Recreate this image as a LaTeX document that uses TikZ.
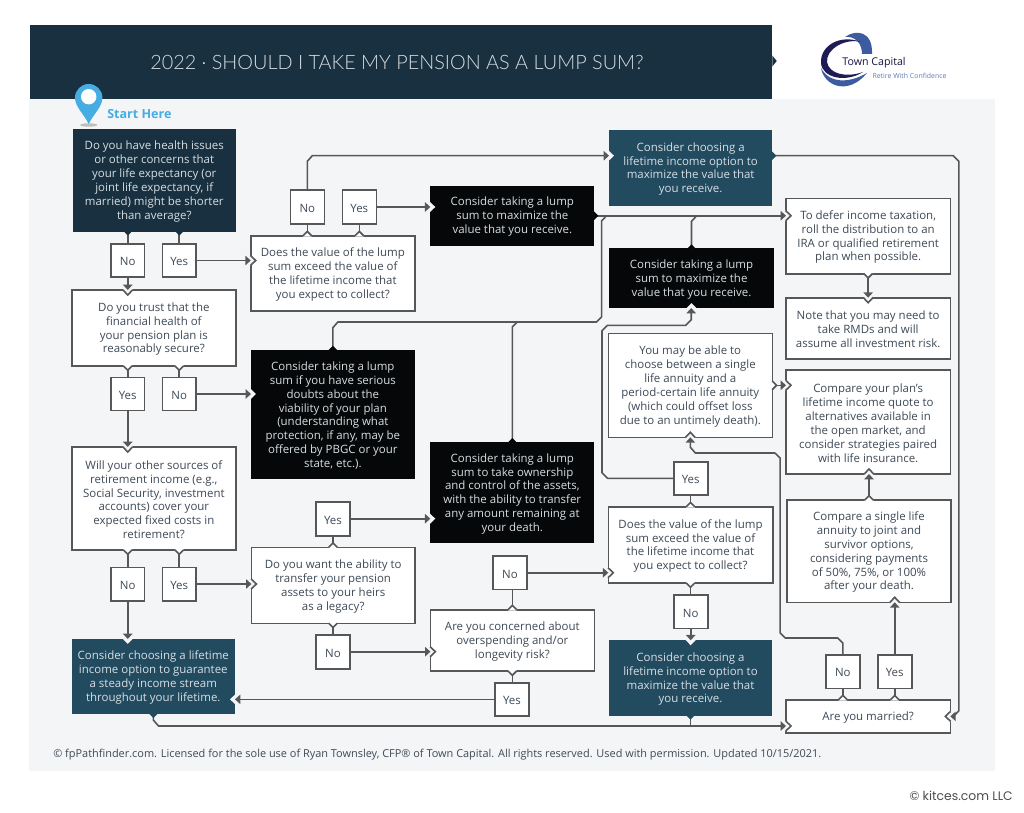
\documentclass[tikz,border=0pt]{standalone}
\usepackage{fontspec}
\setmainfont{Open Sans}
\newfontfamily\titlefont[UprightFont=* Light]{Lato}
\newfontfamily\kitfont{Poppins}
\usetikzlibrary{arrows.meta,calc}
\definecolor{hdr}{HTML}{18303F}
\definecolor{bgc}{HTML}{F4F5F7}
\definecolor{navy}{HTML}{18303F}
\definecolor{teal}{HTML}{224B60}
\definecolor{blk}{HTML}{050708}
\definecolor{edge}{HTML}{555759}
\definecolor{ink}{HTML}{3E4A57}
\definecolor{lite}{HTML}{D6DEE3}
\definecolor{pinc}{HTML}{45ADE2}
\definecolor{logoa}{HTML}{1F1B55}
\definecolor{logob}{HTML}{3C5BA0}
\newcommand{\bx}[7]{%
  \pgfmathsetmacro\cxx{(#2+#4)/2}\pgfmathsetmacro\cyy{(#3+#5)/2}%
  \pgfmathsetmacro\wxx{(#4-#2)*0.75}\pgfmathsetmacro\hxx{(#5-#3)*0.75}%
  \node[#6,minimum width=\wxx pt,minimum height=\hxx pt] (#1) at (\cxx,\cyy) {\rule{0pt}{8.3pt}#7};}
% inward notch on a white box
\newcommand{\vin}[2]{\begin{scope}[shift={(#1)},rotate=#2]
  \fill[bgc] (-0.7pt,3.75pt) -- (0pt,3.75pt) -- (3.75pt,0pt) -- (0pt,-3.75pt) -- (-0.7pt,-3.75pt) -- cycle;
  \draw[edge,wire,line join=miter] (-0.2pt,3.75pt) -- (3.75pt,0pt) -- (-0.2pt,-3.75pt);\end{scope}}
% inward notch on a filled box
\newcommand{\vind}[2]{\begin{scope}[shift={(#1)},rotate=#2]
  \fill[bgc] (-0.2pt,3.75pt) -- (3.75pt,0pt) -- (-0.2pt,-3.75pt) -- cycle;\end{scope}}
% outward bump on a white box
\newcommand{\vout}[2]{\begin{scope}[shift={(#1)},rotate=#2]
  \fill[white] (-0.7pt,3.2pt) -- (0pt,3.2pt) -- (3.2pt,0pt) -- (0pt,-3.2pt) -- (-0.7pt,-3.2pt) -- cycle;
  \draw[edge,wire] (-0.1pt,3.3pt) -- (3.2pt,0pt) -- (-0.1pt,-3.3pt);\end{scope}}
% outward bump on a filled box
\newcommand{\voutd}[3]{\begin{scope}[shift={(#1)},rotate=#2]
  \fill[#3] (-0.2pt,3.2pt) -- (3pt,0pt) -- (-0.2pt,-3.2pt) -- cycle;\end{scope}}
\tikzset{
  wire/.style={line width=1.2pt},
  conn/.style={edge,wire,line join=round},
  arr/.style={conn,-{Triangle[length=4pt,width=7pt]}},
  base/.style={inner sep=0pt,outer sep=0pt,align=center,font=\fontsize{8.6}{10.4}\selectfont},
  wbox/.style={base,draw=edge,line width=1.2pt,fill=white,text=ink},
  nbox/.style={base,fill=navy,text=lite},
  tbox/.style={base,fill=teal,text=lite},
  kbox/.style={base,fill=blk,text=lite},
}
\begin{document}
\begin{tikzpicture}[x=0.75pt,y=-0.75pt]
\useasboundingbox (0,0) rectangle (1024,813);
\fill[white] (0,0) rectangle (1024,813);
\fill[bgc] (29.3,99) rectangle (995,771);
\fill[hdr] (29.5,25) rectangle (772.3,99);
\fill[hdr] (772.3,55.5) -- (776.7,61) -- (772.3,66.5) -- cycle;
\node[inner sep=0pt,text=lite,font=\titlefont\fontsize{14.87}{16}\selectfont] (title) at (397,62.6) {2022 · SHOULD I TAKE MY PENSION AS A LUMP SUM?};
% logo
\fill[logob] (845,37) .. controls (856,29) and (873,31) .. (872,54) -- (862,54) .. controls (862,43) and (855,36) .. (845,37) -- cycle;
\fill[logoa] (861,42) .. controls (841,34) and (820,45) .. (821,63) .. controls (822,78) and (846,83) .. (863,72) .. controls (846,78) and (829,74) .. (827,62) .. controls (826,49) and (845,38) .. (861,42) -- cycle;
\fill[logob] (821,68) .. controls (824,86) and (848,96) .. (867,73) .. controls (848,84) and (829,83) .. (821,68) -- cycle;
\node[inner sep=0pt,text=logoa!75!black,font=\fontsize{8}{9}\selectfont] (logoname) at (874,63) {Town Capital};
\node[inner sep=0pt,text=logob!80!white,font=\fontsize{5.2}{6}\selectfont] (logotag) at (909.5,76) {Retire With Confidence};
% pin
\fill[black!25] (88.7,125) ellipse [x radius=6.4pt,y radius=1.3pt];
\fill[pinc] (88.7,124) .. controls (84,114) and (75,107) .. (75,97.7) arc[start angle=180,end angle=0,radius=10.28pt] .. controls (102.4,107) and (93.4,114) .. (88.7,124) -- cycle;
\fill[white] (88.7,96.7) circle[radius=5.8pt];
\node[inner sep=0pt,anchor=west,text=pinc,font=\bfseries\fontsize{9.4}{11}\selectfont] (start) at (107,114) {Start Here};
% boxes
\bx{q1}{72.5}{129.5}{236}{231.5}{nbox}{Do you have health issues\\or other concerns that\\your life expectancy (or\\joint life expectancy, if\\married) might be shorter\\than average?}
\bx{noa}{111}{244}{144.5}{277}{wbox}{No}
\bx{yesa}{162.5}{244}{196}{277}{wbox}{Yes}
\bx{q2}{72}{290}{235.7}{366}{wbox}{Do you trust that the\\financial health of\\your pension plan is\\reasonably secure?}
\bx{yesb}{111}{377.5}{144.5}{410.5}{wbox}{Yes}
\bx{nob}{162.5}{377.5}{196}{410.5}{wbox}{No}
\bx{q3}{72}{447}{235.7}{550}{wbox}{Will your other sources of\\retirement income (e.g.,\\Social Security, investment\\accounts) cover your\\expected fixed costs in\\retirement?}
\bx{noc}{111}{567.3}{144.5}{600.7}{wbox}{No}
\bx{yesc}{162.5}{567.3}{196}{600.7}{wbox}{Yes}
\bx{dbl}{71.6}{639}{235}{714}{tbox}{Consider choosing a lifetime\\income option to guarantee\\a steady income stream\\throughout your lifetime.}
\bx{q5}{250.7}{235.7}{415}{310.7}{wbox}{Does the value of the lump\\sum exceed the value of\\the lifetime income that\\you expect to collect?}
\bx{nod}{290.3}{190.3}{324.3}{223.7}{wbox}{No}
\bx{yesd}{342.3}{190.3}{376.3}{223.7}{wbox}{Yes}
\bx{ka}{430.3}{185.7}{594.3}{245.7}{kbox}{Consider taking a lump\\sum to maximize the\\value that you receive.}
\bx{ser}{251}{349.7}{414.7}{479}{kbox}{Consider taking a lump\\sum if you have serious\\doubts about the\\viability of your plan\\(understanding what\\protection, if any, may be\\offered by PBGC or your\\state, etc.).}
\bx{yese}{316}{501.7}{350}{535.7}{wbox}{Yes}
\bx{q4}{251.4}{547.3}{415}{623.3}{wbox}{Do you want the ability to\\transfer your pension\\assets to your heirs\\as a legacy?}
\bx{noe}{316}{634.7}{350}{668.7}{wbox}{No}
\bx{own}{430.3}{442}{594.3}{543.3}{kbox}{Consider taking a lump\\sum to take ownership\\and control of the assets,\\with the ability to transfer\\any amount remaining at\\your death.}
\bx{nof}{493}{556}{527}{589.5}{wbox}{No}
\bx{q6}{430.4}{609.7}{594.3}{671}{wbox}{Are you concerned about\\overspending and/or\\longevity risk?}
\bx{yesf}{495}{682.7}{529}{716}{wbox}{Yes}
\bx{bt}{609}{130}{772.3}{205.7}{tbox}{Consider choosing a\\lifetime income option to\\maximize the value that\\you receive.}
\bx{kb}{609.3}{248.3}{773.7}{308}{kbox}{Consider taking a lump\\sum to maximize the\\value that you receive.}
\bx{may}{608.3}{333.3}{772.3}{437.3}{wbox}{You may be able to\\choose between a single\\life annuity and a\\period-certain life annuity\\(which could offset loss\\due to an untimely death).}
\bx{yesg}{673.7}{461.7}{707.7}{495}{wbox}{Yes}
\bx{q7}{608.3}{506.7}{772.7}{583}{wbox}{Does the value of the lump\\sum exceed the value of\\the lifetime income that\\you expect to collect?}
\bx{nog}{673.7}{595}{707.7}{628.3}{wbox}{No}
\bx{bm}{608.7}{640.3}{772.3}{715.7}{tbox}{Consider choosing a\\lifetime income option to\\maximize the value that\\you receive.}
\bx{def}{786}{198.3}{950.3}{273.7}{wbox}{To defer income taxation,\\roll the distribution to an\\IRA or qualified retirement\\plan when possible.}
\bx{note}{786}{297.7}{950.3}{358.7}{wbox}{Note that you may need to\\take RMDs and will\\assume all investment risk.}
\bx{cp}{786}{370}{950.3}{474}{wbox}{Compare your plan’s\\lifetime income quote to\\alternatives available in\\the open market, and\\consider strategies paired\\with life insurance.}
\bx{cs}{787}{500}{951}{602.3}{wbox}{Compare a single life\\annuity to joint and\\survivor options,\\considering payments\\of 50\%, 75\%, or 100\%\\after your death.}
\bx{nor}{826}{654.7}{859.7}{688.3}{wbox}{No}
\bx{yesr}{877.7}{654.7}{911.7}{688.3}{wbox}{Yes}
\bx{mar}{786}{699.7}{950.3}{733}{wbox}{Are you married?}
\node[inner sep=0pt,anchor=west,text=ink,font=\fontsize{8.2}{10}\selectfont] (foot) at (53,755) {© fpPathfinder.com. Licensed for the sole use of Ryan Townsley, CFP® of Town Capital. All rights reserved. Used with permission. Updated 10/15/2021.};
\node[inner sep=0pt,anchor=east,text=black!70,font=\kitfont\fontsize{9.3}{10}\selectfont] (kit) at (1013,796) {© kitces.com LLC};
% inward notches
\vin{q2.north-|noa}{270}
\vin{q5.west|-yesa}{0}
\vind{ka.west|-yesd}{0}
\vind{ser.west|-nob}{0}
\vin{q3.north-|yesb}{270}
\vin{q4.west|-yesc}{0}
\vind{dbl.north-|noc}{270}
\vind{own.west|-yese}{0}
\vin{q6.west|-noe}{0}
\vind{dbl.east|-yesf}{180}
\vin{q7.west|-nof}{0}
\vind{bm.north-|nog}{270}
\vin{def.west|-ka}{0}
\vin{note.north-|def}{270}
\vin{cp.west|-may}{0}
\vin{cp.south-|cs}{90}
\vin{cs.south-|yesr}{90}
\vin{may.south}{90}
\vind{kb.south}{90}
\vin{mar.east}{180}
\coordinate (btin) at ($(bt.north west)+(0,25.7)$);
\coordinate (btout) at ($(bt.north east)+(0,25.7)$);
\vind{btin}{0}
\coordinate (jm) at (786,726);
\vin{jm}{0}
% connectors
\draw[conn] (noa|-q1.south) -- (noa.north);
\draw[conn] (yesa|-q1.south) -- (yesa.north);
\draw[arr] (noa.south) -- (noa|-q2.north);
\draw[arr] (yesa.east) -- (yesa.east-|q5.west);
\draw[conn] (yesb|-q2.south) -- (yesb.north);
\draw[conn] (nob|-q2.south) -- (nob.north);
\draw[arr] (yesb.south) -- (yesb|-q3.north);
\draw[arr] (nob.east) -- (nob.east-|ser.west);
\draw[conn] (noc|-q3.south) -- (noc.north);
\draw[conn] (yesc|-q3.south) -- (yesc.north);
\draw[arr] (noc.south) -- (noc|-dbl.north);
\draw[arr] (yesc.east) -- (yesc.east-|q4.west);
\draw[conn] (nod|-q5.north) -- (nod.south);
\draw[conn] (yesd|-q5.north) -- (yesd.south);
\draw[arr] (yesd.east) -- (yesd.east-|ka.west);
\draw[arr] (nod.north) -- ++(0,-29) -- ++(5,-5.6) -- (btin);
\draw[arr] (ka.east) -- (ka.east-|def.west);
\draw[conn] (ser.north) -- ++(0,-22) -- ++(5,-5.7) -- ++(258.7,0) -- ++(5,-5) -- ++(0,-96) -- ++(5,-5.3);
\draw[conn] (own.north) -- ++(0,-115) -- ++(5,-5);
\draw[conn] (kb.north) -- ++(0,-27) -- ++(5,-5.3);
\draw[conn] (yese|-q4.north) -- (yese.south);
\draw[conn] (noe|-q4.south) -- (noe.north);
\draw[arr] (yese.east) -- (yese.east-|own.west);
\draw[arr] (noe.east) -- (noe.east-|q6.west);
\draw[conn] (q6.north) -- (q6.north|-nof.south);
\draw[conn] (q6.south) -- (q6.south|-yesf.north);
\draw[arr] (nof.east) -- (nof.east-|q7.west);
\draw[arr] (yesf.west) -- (yesf.west-|dbl.east);
\draw[conn] (btout) -- ++(181,0) -- ++(5.5,5.5) coordinate (ka1) -- ($(ka1|-mar.east)+(0,-5.5)$) -- ++(-5.5,5.5) coordinate (ka2);
\draw[arr] (ka2) -- (mar.east);
\draw[arr] (yesg.west) -- ++(-66,0) -- ++(-5.7,-5.7) -- ++(0,-142) -- ++(5.3,-5.3) -- ++(78.4,0) -- ++(5.5,-5.5) coordinate (gg) -- (gg|-kb.south);
\draw[conn] (q7.north) -- (q7.north|-yesg.south);
\draw[conn] (q7.south) -- (q7.south|-nog.north);
\draw[arr] (nog.south) -- (nog.south|-bm.north);
\draw[arr] (dbl.south) -- ++(0,6) -- ++(5.2,6) coordinate (jj) -- (jj-|mar.west);
\draw[conn] (bm.south) -- (bm.south|-jj);
\draw[conn] (nor|-mar.north) -- (nor.south);
\draw[conn] (yesr|-mar.north) -- (yesr.south);
\draw[arr] (yesr.north) -- (yesr.north|-cs.south);
\draw[arr] (nor.north) -- ++(0,-11.7) -- ++(-5,-5) -- ++(-52.7,0) -- ++(-5,-5) -- ++(0,-175) -- ++(-5.3,-5) -- ++(-79.5,0) -- ++(-5,-5.7) coordinate (mm) -- (mm|-may.south);
\draw[arr] (cs.north) -- (cs.north|-cp.south);
\draw[arr] (may.east) -- (may.east-|cp.west);
\draw[arr] (def.south) -- (def.south|-note.north);
% outward bumps
\voutd{noa|-q1.south}{270}{navy}
\voutd{yesa|-q1.south}{270}{navy}
\vout{yesb|-q2.south}{270}
\vout{nob|-q2.south}{270}
\vout{noc|-q3.south}{270}
\vout{yesc|-q3.south}{270}
\vout{nod|-q5.north}{90}
\vout{yesd|-q5.north}{90}
\voutd{ka.east}{0}{blk}
\voutd{ser.north}{90}{blk}
\voutd{own.north}{90}{blk}
\voutd{kb.north}{90}{blk}
\voutd{dbl.south}{270}{teal}
\voutd{bm.south}{270}{teal}
\voutd{btout}{0}{teal}
\vout{yese|-q4.north}{90}
\vout{noe|-q4.south}{270}
\vout{q6.north}{90}
\vout{q6.south}{270}
\vout{q7.north}{90}
\vout{q7.south}{270}
\vout{def.south}{270}
\vout{may.east}{0}
\vout{cs.north}{90}
\vout{nor|-mar.north}{90}
\vout{yesr|-mar.north}{90}
\end{tikzpicture}
\end{document}
